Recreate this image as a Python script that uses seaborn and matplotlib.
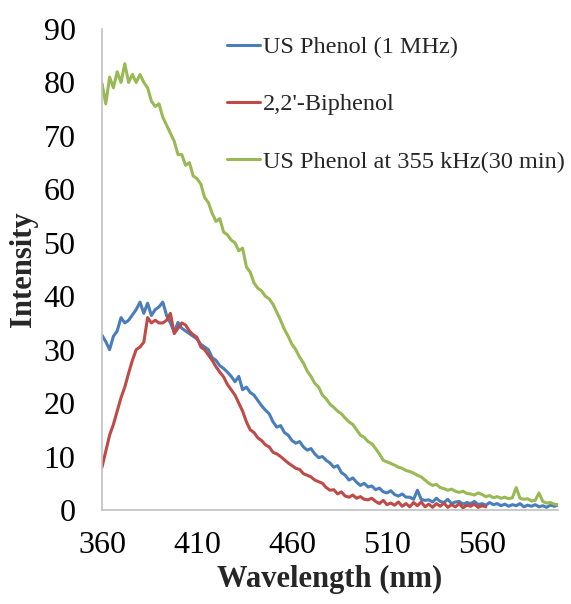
import numpy as np
import pandas as pd
import matplotlib
matplotlib.use("Agg")
import matplotlib.pyplot as plt
import seaborn as sns

wavelength = list(range(360, 601, 2))

us_phenol_1mhz = [
    32.7, 31.5, 30.0, 32.5, 33.5, 36.0, 35.0, 35.5, 36.5, 37.5,
    38.9, 36.8, 38.7, 36.4, 37.5, 38.0, 38.9, 36.4, 35.0, 33.3,
    35.1, 34.0, 33.5, 33.0, 32.5, 32.0, 31.0, 30.5, 30.0, 28.5,
    28.0, 27.0, 26.5, 25.8, 25.0, 24.0, 25.0, 22.5, 23.0, 22.0,
    21.5, 20.5, 19.5, 18.7, 18.0, 16.5, 15.5, 15.8, 14.5, 14.0,
    13.0, 12.5, 12.8, 11.8, 11.2, 11.5, 10.5, 9.8, 10.0, 9.3,
    8.8, 8.0, 8.3, 7.0, 6.5, 5.6, 6.0, 5.2, 4.6, 5.0,
    4.3, 4.5, 3.8, 4.1, 3.4, 3.2, 3.6, 2.9, 2.6, 3.0,
    2.4, 2.4, 2.0, 3.7, 2.0, 1.8, 1.9, 1.5, 2.2, 1.6,
    1.4, 2.0, 1.2, 1.5, 1.6, 1.1, 1.4, 1.2, 1.6, 1.0,
    1.2, 0.9, 1.4, 1.0, 1.2, 0.8, 1.1, 0.7, 1.0, 0.8,
    1.2, 0.6, 0.9, 0.7, 1.0, 0.6, 0.8, 0.5, 0.9, 0.7,
    0.9,
]

biphenol = [
    8.0, 11.0, 14.0, 16.0, 18.5, 21.0, 23.0, 25.6, 28.0, 30.0,
    30.5, 31.4, 36.0, 35.0, 35.5, 35.0, 35.0, 35.5, 36.8, 33.0,
    34.0, 35.0, 34.6, 33.5, 32.8, 32.3, 30.5, 30.0, 29.0, 28.0,
    26.8, 25.8, 24.9, 23.5, 22.5, 21.5, 20.0, 18.5, 16.5, 15.0,
    14.5, 13.5, 13.0, 12.2, 11.8, 10.8, 10.5, 10.0, 9.4, 8.8,
    8.3, 7.8, 7.6, 6.8, 6.5, 6.2, 5.6, 5.3, 5.0, 4.2,
    3.7, 3.8, 3.0, 3.4, 2.6, 2.4, 2.8, 2.2, 2.5, 2.0,
    1.9, 2.2, 1.6, 1.2, 1.8, 1.0, 1.3, 0.9, 1.5, 0.7,
    1.2, 0.6, 1.4, 0.8, 1.5, 0.6, 1.1, 0.5, 1.2, 0.7,
    1.3, 0.5, 1.0, 0.6, 1.2, 0.4, 0.9, 0.7, 1.1, 0.5,
    0.8, 0.6,
]

us_phenol_355khz = [
    79.8, 76.0, 81.0, 79.0, 82.0, 80.0, 83.5, 80.0, 81.5, 80.0,
    81.5, 80.0, 79.0, 76.5, 75.5, 76.0, 73.5, 72.0, 70.5, 69.0,
    66.5, 66.5, 64.5, 65.0, 62.5, 62.0, 61.0, 58.5, 57.5, 55.5,
    54.0, 54.5, 52.0, 51.5, 50.5, 50.0, 48.5, 49.0, 45.5, 44.5,
    42.5, 41.5, 41.0, 40.0, 39.5, 38.5, 37.0, 35.5, 33.8, 32.5,
    31.0, 30.0, 28.6, 27.5, 26.0, 25.0, 23.7, 23.0, 21.5, 20.8,
    19.8, 19.2, 18.5, 18.0, 17.2, 16.5, 16.0, 15.0, 14.0, 13.6,
    12.8, 12.4, 11.5, 10.5, 9.3, 9.0, 8.7, 8.4, 8.0, 7.8,
    7.4, 7.2, 6.9, 6.5, 6.2, 5.6, 5.0, 4.6, 4.8, 4.2,
    4.0, 3.7, 3.9, 3.5, 3.3, 3.5, 3.1, 3.0, 2.8, 3.2,
    2.9, 2.5, 2.7, 2.3, 2.5, 2.2, 2.4, 2.1, 2.3, 4.2,
    2.2, 2.0, 2.1, 1.7, 1.8, 3.2, 1.6, 1.3, 1.4, 1.1,
    1.0,
]

series_names = ["US Phenol (1 MHz)", "2,2'-Biphenol", "US Phenol at 355 kHz(30 min)"]
colors = ["#4a7ebb", "#be4b48", "#98b954"]

frames = []
for name, vals in zip(series_names, [us_phenol_1mhz, biphenol, us_phenol_355khz]):
    frames.append(pd.DataFrame({"Wavelength": wavelength[:len(vals)],
                                "Intensity": vals, "Series": name}))
df = pd.concat(frames, ignore_index=True)

sns.set_theme(style="white")
plt.rcParams["font.family"] = ["Liberation Serif", "DejaVu Serif"]

fig = plt.figure(figsize=(5.71, 6.04), dpi=100)
ax = fig.add_axes([102/571, 1 - 510/604, 456/571, 481/604])

sns.lineplot(data=df, x="Wavelength", y="Intensity", hue="Series",
             hue_order=series_names, palette=colors, linewidth=2.2,
             ax=ax, legend=True, estimator=None, sort=False)

ax.set_xlim(360, 600)
ax.set_ylim(0, 90)
ax.set_xticks([360, 410, 460, 510, 560])
ax.set_yticks(range(0, 91, 10))
ax.tick_params(axis="both", labelsize=23, length=7, width=1,
               direction="out", color="#c0c0c0", labelcolor="black")
ax.tick_params(axis="y", pad=12)
ax.tick_params(axis="x", pad=8)
for s in ["top", "right"]:
    ax.spines[s].set_visible(False)
for s in ["left", "bottom"]:
    ax.spines[s].set_color("#c0c0c0")
    ax.spines[s].set_linewidth(1.2)

ax.set_xlabel("Wavelength (nm)", fontsize=22, fontweight="bold", labelpad=4)
ax.set_ylabel("Intensity", fontsize=22, fontweight="bold", labelpad=4)

leg = ax.legend(loc="upper left", bbox_to_anchor=(0.275, 0.985), frameon=False,
                fontsize=17.5, labelspacing=1.45, handlelength=1.35,
                handletextpad=0.12, borderpad=0, borderaxespad=0)
for h in leg.get_lines():
    h.set_linewidth(2.2)

fig.savefig("out.png", dpi=100)
